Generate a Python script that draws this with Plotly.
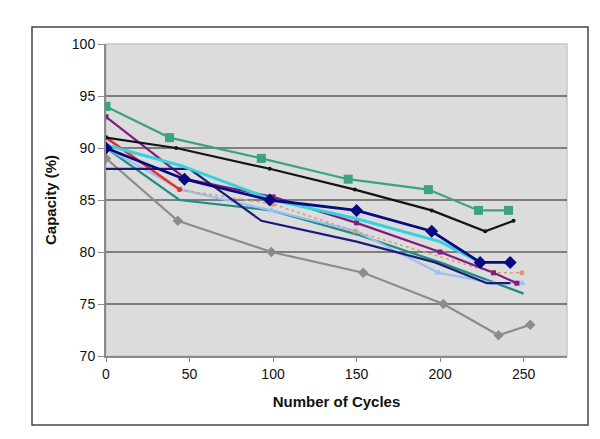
import plotly.graph_objects as go

# ---- data ----
green_x = [0, 38, 93, 145, 193, 223, 241]
green_y = [94, 91, 89, 87, 86, 84, 84]

black_x = [0, 42, 98, 149, 195, 227, 244]
black_y = [91, 90, 88, 86, 84, 82, 83]

gray_x = [0, 43, 99, 154, 202, 235, 254]
gray_y = [89, 83, 80, 78, 75, 72, 73]

navyd_x = [0, 47, 98, 150, 195, 224, 242]
navyd_y = [90, 87, 85, 84, 82, 79, 79]

navy_x = [0, 50, 93, 150, 197, 228, 242]
navy_y = [88, 88, 83, 81, 79, 77, 77]

purple_x = [0, 48, 100, 150, 200, 232, 246]
purple_y = [93, 87, 85.3, 82.8, 80, 78, 77]

red_x = [0, 44]
red_y = [91, 86]
salmon_x = [44, 100, 149, 232, 249]
salmon_y = [86, 84.6, 82, 78, 78]

cyan_x = [0, 45, 100, 150, 200, 224]
cyan_y = [90.3, 88.3, 85, 83.2, 81, 79]

lblue_x = [0, 45, 99, 150, 199, 232, 249]
lblue_y = [90, 86, 84, 82, 78, 77, 77]

teal_x = [0, 44, 99, 150, 200, 250]
teal_y = [90, 85, 84, 81.7, 79, 76]

x_ticks = [0, 50, 100, 150, 200, 250]
y_ticks = [70, 75, 80, 85, 90, 95, 100]

fig = go.Figure()

def add(x, y, color, width, symbol=None, size=6, dash="solid"):
    fig.add_trace(go.Scatter(
        x=x, y=y, mode="lines+markers" if symbol else "lines",
        line=dict(color=color, width=width, dash=dash),
        marker=dict(symbol=symbol or "circle", size=size, color=color),
        showlegend=False, hoverinfo="x+y"))

add(teal_x, teal_y, "#1E8C82", 2.2)
add(gray_x, gray_y, "#8C8C8C", 2.2, "diamond", 8)
add(lblue_x, lblue_y, "#9CC0EE", 2.2, "triangle-up", 7)
add(salmon_x, salmon_y, "#D99A84", 1.5, "circle", 5, dash="dot")
add(red_x, red_y, "#E8302A", 2.5, "circle", 5)
add(purple_x, purple_y, "#801C80", 2.2, "square", 5)
add(navy_x, navy_y, "#1C1C78", 2.2)
add(cyan_x, cyan_y, "#35D2DE", 3)
add(navyd_x, navyd_y, "#0A0A80", 2.8, "diamond", 10)
add(black_x, black_y, "#141414", 2.2, "circle", 4)
add(green_x, green_y, "#3BA47E", 2.2, "square", 9)

# page has an 8px body margin; work in window pixels and convert
OFF = 8
W, H = 592, 431
L, T = 106 - OFF, 44 - OFF
R = W - (567 - OFF)
B = H - (356 - OFF)
pw, ph = W - L - R, H - T - B

def px(X):
    return (X - OFF - L) / pw

def py(Y):
    return (H - B - (Y - OFF)) / ph

fig.update_layout(
    width=W, height=H,
    margin=dict(l=L, r=R, t=T, b=B),
    paper_bgcolor="white",
    plot_bgcolor="#DCDCDC",
    font=dict(family="Liberation Sans, Arial, sans-serif", size=13, color="#111111"),
    xaxis=dict(
        range=[0, 276], tickvals=x_ticks, showgrid=False, zeroline=False,
        showline=True, linecolor="#8A8A8A", linewidth=2,
        ticks="outside", ticklen=4, tickcolor="#8A8A8A",
        tickfont=dict(size=14, color="#111111"),
        title=dict(text="<b>Number of Cycles</b>", font=dict(size=15, color="#111111"), standoff=16),
    ),
    yaxis=dict(
        range=[70, 100], tickvals=y_ticks, showgrid=True, gridcolor="#7E7E7E", gridwidth=2,
        zeroline=False, showline=True, linecolor="#8A8A8A", linewidth=2,
        ticks="outside", ticklen=6, tickcolor="#8A8A8A",
        tickfont=dict(size=14, color="#111111"),
        title=dict(text="<b>Capacity (%)</b>", font=dict(size=15, color="#111111"), standoff=12),
    ),
    shapes=[
        dict(type="rect", xref="paper", yref="paper",
             x0=px(32), x1=px(588), y0=py(425), y1=py(27),
             line=dict(color="#444444", width=1.5), fillcolor="rgba(0,0,0,0)", layer="below"),
        dict(type="rect", xref="paper", yref="paper",
             x0=0, x1=1, y0=0, y1=1,
             line=dict(color="#C8C8C8", width=1.5), fillcolor="rgba(0,0,0,0)", layer="below"),
    ],
)

fig.write_html("out.html")
